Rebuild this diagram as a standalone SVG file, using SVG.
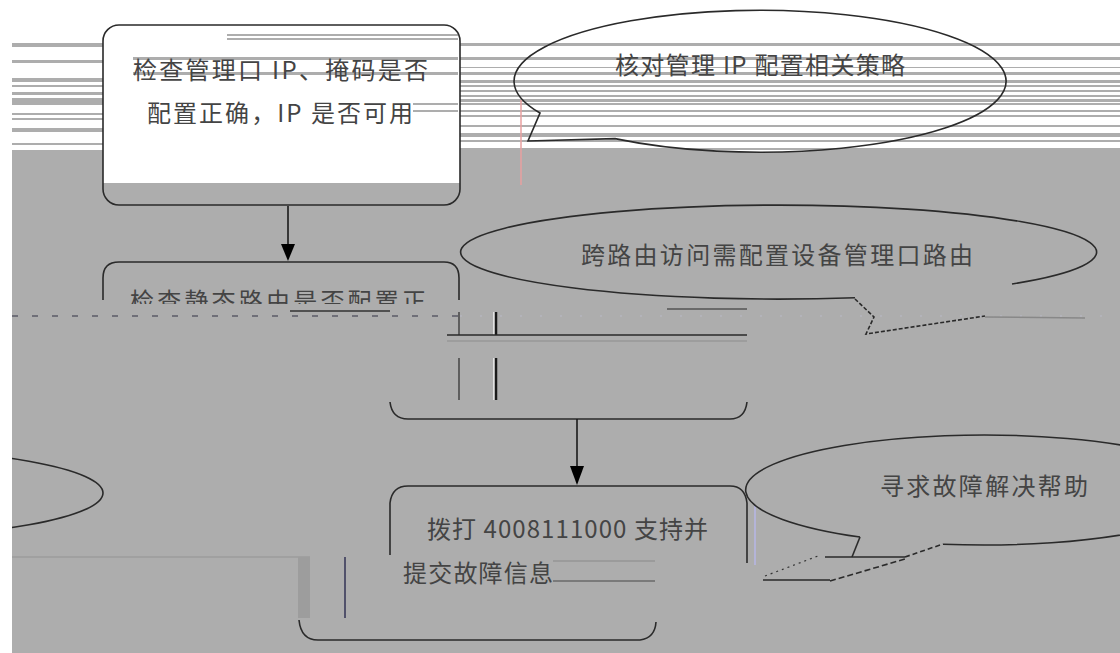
<svg xmlns="http://www.w3.org/2000/svg" width="1120" height="653" viewBox="0 0 1120 653">
<style>
.ln{fill:none;stroke:#2a2a2a;stroke-width:1.6}
.st{fill:#adadad}
.tx{font-family:"Noto Sans CJK SC","Liberation Sans",sans-serif;font-size:24px;fill:#444}
</style>
<defs>
<clipPath id="cut2"><rect x="0" y="0" width="1120" height="304"/></clipPath>
</defs>
<rect x="0" y="0" width="1120" height="653" fill="#ffffff"/>
<rect x="12" y="150" width="1108" height="503" fill="#adadad"/>
<g id="stripes-left">
<rect class="st" x="12" y="43" width="91" height="4"/>
<rect class="st" x="12" y="60" width="91" height="3"/>
<rect class="st" x="12" y="78" width="91" height="4"/>
<rect class="st" x="12" y="85" width="91" height="2"/>
<rect class="st" x="12" y="92" width="91" height="3"/>
<rect class="st" x="12" y="98" width="91" height="7"/>
<rect class="st" x="12" y="113" width="91" height="2"/>
<rect class="st" x="12" y="118" width="91" height="2"/>
<rect class="st" x="12" y="128" width="91" height="4"/>
<rect class="st" x="12" y="143" width="91" height="2"/>
</g>
<g id="callout1">
<path d="M615 138.6 A246 71 0 1 0 540 113 L528 141 Z" fill="#ffffff"/>
</g>
<g id="stripes-right">
<rect class="st" x="460" y="43" width="660" height="3"/>
<rect class="st" x="460" y="57" width="660" height="3"/>
<rect class="st" x="460" y="67" width="660" height="1"/>
<rect class="st" x="460" y="72" width="660" height="3"/>
<rect class="st" x="460" y="80" width="660" height="3"/>
<rect class="st" x="460" y="85" width="660" height="2"/>
<rect class="st" x="460" y="90" width="660" height="2"/>
<rect class="st" x="460" y="95" width="660" height="2"/>
<rect class="st" x="460" y="99" width="660" height="3"/>
<rect class="st" x="460" y="103" width="660" height="2"/>
<rect class="st" x="460" y="110" width="660" height="2"/>
<rect class="st" x="460" y="115" width="660" height="2"/>
<rect class="st" x="460" y="125" width="660" height="2"/>
<rect class="st" x="460" y="133" width="660" height="4"/>
<rect class="st" x="460" y="140" width="660" height="2"/>
<rect class="st" x="460" y="148" width="660" height="2"/>
</g>
<g id="callout1-outline">
<path class="ln" d="M615 138.6 A246 71 0 1 0 540 113 L528 141 Z"/>
<line x1="521" y1="100" x2="521" y2="185" stroke="#e8a0a0" stroke-width="1.5"/>
<text class="tx" x="615" y="74" textLength="290" lengthAdjust="spacing">核对管理 IP 配置相关策略</text>
</g>
<g id="box1">
<rect x="103" y="25" width="357" height="180" rx="16" fill="#ffffff"/>
<rect x="103" y="183" width="357" height="22" fill="#adadad"/>
<rect class="st" x="227" y="34" width="231" height="2"/>
<rect class="st" x="227" y="38" width="231" height="2"/>
<rect class="st" x="133" y="57" width="325" height="3"/>
<rect class="st" x="133" y="72" width="325" height="3"/>
<rect class="st" x="413" y="103" width="45" height="2"/>
<rect class="st" x="413" y="110" width="45" height="2"/>
<rect class="ln" x="103" y="25" width="357" height="180" rx="16"/>
<text class="tx" x="133" y="79" textLength="295" lengthAdjust="spacing">检查管理口 IP、掩码是否</text>
<text class="tx" x="147" y="122" textLength="266" lengthAdjust="spacing">配置正确，IP 是否可用</text>
</g>
<g id="box2">
<path class="ln" d="M103 300 L103 278 Q103 262 119 262 L444 262 Q459 262 459 278 L459 300"/>
<text class="tx" x="130" y="310" textLength="296" lengthAdjust="spacing" clip-path="url(#cut2)">检查静态路由是否配置正</text>
<line x1="290" y1="311" x2="390" y2="311" stroke="#333" stroke-width="1.5"/>
<line x1="12" y1="316" x2="460" y2="316" stroke="#334" stroke-width="1.2" stroke-dasharray="6,14"/>
<line x1="460" y1="316" x2="1120" y2="316" stroke="#b9b9c6" stroke-width="1" stroke-dasharray="2,18"/>
<line x1="459" y1="312" x2="459" y2="335" stroke="#2a2a2a" stroke-width="1.2"/>
<line x1="459" y1="358" x2="459" y2="400" stroke="#2a2a2a" stroke-width="1.2"/>
<line x1="494" y1="312" x2="494" y2="335" stroke="#f4f4f4" stroke-width="1.5"/>
<line x1="496" y1="312" x2="496" y2="335" stroke="#1a1a1a" stroke-width="2.5"/>
<line x1="494" y1="358" x2="494" y2="400" stroke="#f4f4f4" stroke-width="1.5"/>
<line x1="496" y1="358" x2="496" y2="400" stroke="#1a1a1a" stroke-width="2.5"/>
<line x1="447" y1="335" x2="747" y2="335" stroke="#2a2a2a" stroke-width="1.6"/>
<line x1="447" y1="341" x2="747" y2="341" stroke="#999999" stroke-width="1.5"/>
<line x1="667" y1="309" x2="747" y2="309" stroke="#555555" stroke-width="1.5"/>
<path class="ln" d="M390 402 Q392 419 408 419 L730 419 Q745 419 747 402"/>
</g>
<g id="callout2">
<path class="ln" d="M855 297.7 A318 47 0 1 1 1012 284"/>
<polyline class="ln" points="855,299 874,317 866,334 985,316" stroke-dasharray="4,2"/>
<line x1="985" y1="317" x2="1085" y2="318" stroke="#888888" stroke-width="1.5"/>
<text class="tx" x="581" y="264" textLength="392" lengthAdjust="spacing">跨路由访问需配置设备管理口路由</text>
</g>
<g id="box3">
<path class="ln" d="M390 555 L390 503 Q392 486 408 486 L730 486 Q745 486 747 503 L747 563"/>
<line x1="755" y1="505" x2="755" y2="565" stroke="#b4b4d8" stroke-width="2"/>
<text class="tx" x="427" y="538" textLength="281" lengthAdjust="spacing">拨打 4008111000 支持并</text>
<text class="tx" x="403" y="582" textLength="150" lengthAdjust="spacing" fill="#5a5a78">提交故障信息</text>
<line x1="553" y1="561" x2="655" y2="561" stroke="#8a8a8a" stroke-width="1.2"/>
<line x1="553" y1="581" x2="655" y2="581" stroke="#6a6a6a" stroke-width="1.5"/>
<line x1="12" y1="557" x2="310" y2="557" stroke="#a0a0a0" stroke-width="2"/>
<rect x="298" y="557" width="12" height="61" fill="#9d9d9d"/>
<line x1="345" y1="557" x2="345" y2="618" stroke="#3a3a5a" stroke-width="1.6"/>
<path class="ln" d="M299 620 Q301 640 318 640 L640 640 Q655 638 656 622"/>
</g>
<g id="callout3">
<path class="ln" d="M860 537 A238 55 0 1 1 943 544.2"/>
<line class="ln" x1="860" y1="537" x2="852" y2="557"/>
<line class="ln" x1="825" y1="557" x2="905" y2="557"/>
<line class="ln" x1="905" y1="557" x2="943" y2="544" stroke-dasharray="5,3"/>
<line class="ln" x1="763" y1="580" x2="830" y2="580"/>
<line class="ln" x1="830" y1="581" x2="905" y2="559" stroke-dasharray="6,3"/>
<line x1="765" y1="576" x2="818" y2="556" stroke="#333" stroke-width="1.2" stroke-dasharray="2,4"/>
<text class="tx" x="880" y="495" textLength="208" lengthAdjust="spacing">寻求故障解决帮助</text>
</g>
<g id="callout-left">
<ellipse class="ln" cx="-150" cy="493" rx="253" ry="45"/>
</g>
<g id="connectors">
<line x1="288" y1="206" x2="288" y2="246" stroke="#1a1a1a" stroke-width="1.6"/>
<polygon points="281,244 295,244 288,261" fill="#000000"/>
<line x1="577" y1="419" x2="577" y2="467" stroke="#1a1a1a" stroke-width="1.6"/>
<polygon points="570,466 584,466 577,485" fill="#000000"/>
</g>
<rect x="0" y="0" width="12" height="653" fill="#ffffff"/>
</svg>
